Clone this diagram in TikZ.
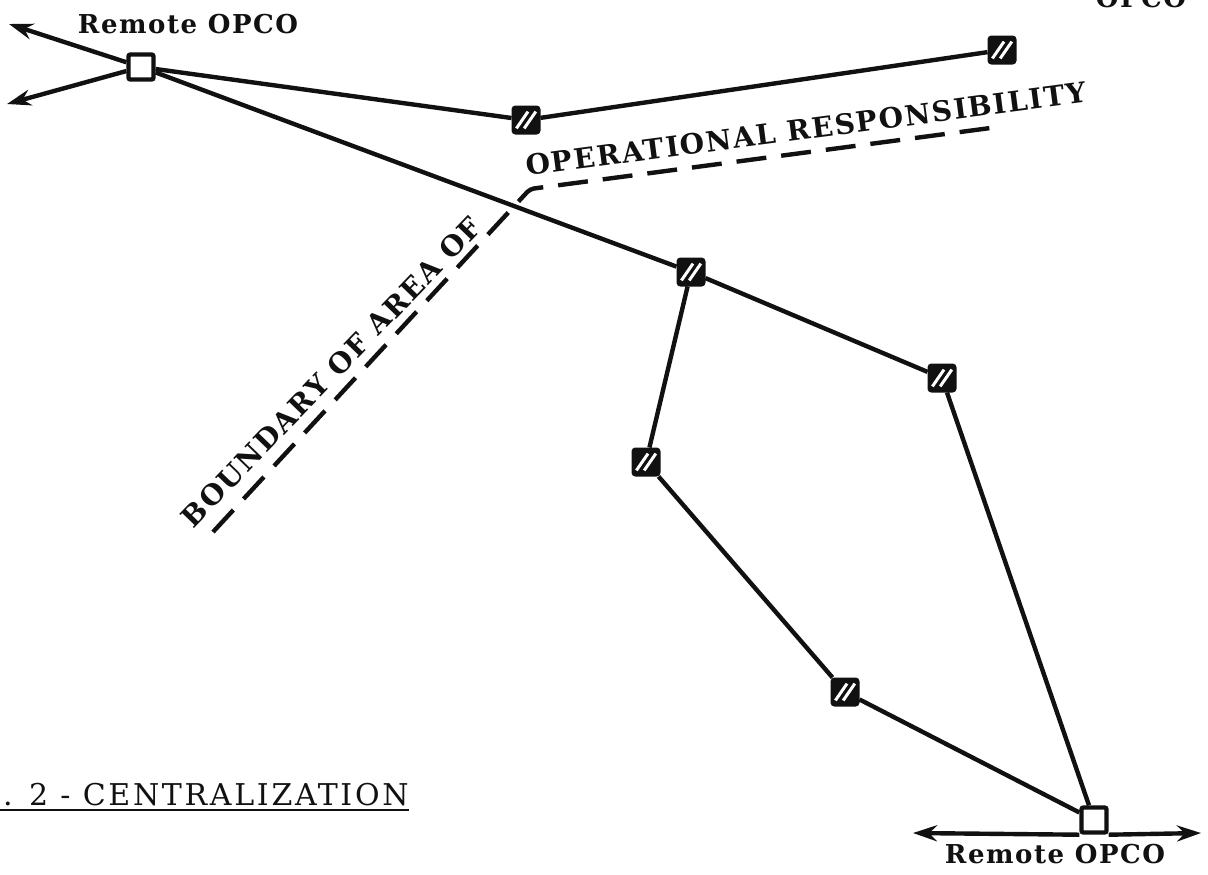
\documentclass[tikz,border=0pt]{standalone}
\usepackage{fontspec}
\setmainfont{DejaVu Serif}
\newfontfamily\slabfont[LetterSpace=6]{DejaVu Serif}
\newfontfamily\capfont[LetterSpace=9]{DejaVu Serif}
\usetikzlibrary{arrows.meta}
\definecolor{Ink}{HTML}{111111}
\definecolor{Paper}{HTML}{FFFFFF}
\tikzset{
  link/.style={draw=Ink,line width=2.2pt},
  bound/.style={draw=Ink,line width=2.2pt,dash pattern=on 15pt off 7.5pt,rounded corners=2pt},
  outarr/.style={draw=Ink,line width=2.2pt,-{Stealth[length=12pt,width=8pt]}},
  rule/.style={draw=Ink,line width=1.4pt},
  opco/.style={rectangle,draw=Ink,fill=Paper,line width=2.2pt,minimum size=12.5pt,inner sep=0pt,rounded corners=1pt},
  hatch/.style={rectangle,draw=Ink,fill=Ink,line width=1pt,minimum size=13.5pt,inner sep=0pt,rounded corners=1.5pt,
    path picture={
      \draw[Paper,line width=1.5pt] ([shift={(-4.8pt,-4.2pt)}]path picture bounding box.center) -- ++(5.8pt,8.4pt);
      \draw[Paper,line width=1.5pt] ([shift={(-0.9pt,-4.2pt)}]path picture bounding box.center) -- ++(5.8pt,8.4pt);}},
  lbl/.style={font=\slabfont\bfseries\fontsize{13}{15}\selectfont,text=Ink,inner sep=0pt},
  bndtext/.style={lbl,font=\slabfont\bfseries\fontsize{14}{16}\selectfont},
  figtext/.style={font=\capfont\fontsize{15}{18}\selectfont,text=Ink,inner sep=0pt},
}

\begin{document}
\begin{tikzpicture}[x=0.5pt,y=-0.5pt]
\path[use as bounding box,fill=Paper] (0,0) rectangle (1208,874);

% stations
\node[opco] (tlopco) at (141,67) {};
\node[hatch] (midtop) at (526,120) {};
\node[hatch] (fartop) at (1002,50) {};
\node[hatch] (hub) at (691,272) {};
\node[hatch] (east) at (942,378) {};
\node[hatch] (west) at (646,462) {};
\node[hatch] (south) at (845,692) {};
\node[opco] (bropco) at (1094,820) {};

\draw[link] (tlopco) -- (midtop) -- (fartop);
\draw[link] (tlopco) -- (hub);
\draw[link] (hub) -- (east) -- (bropco);
\draw[link] (hub) -- (west) -- (south) -- (bropco);

% remote links
\coordinate (tlup) at (9,24);
\coordinate (tllow) at (7,104);
\coordinate (brwest) at (913,833);
\coordinate (breast) at (1201,833);
\draw[outarr] (tlopco) -- (tlup);
\draw[outarr] (tlopco) -- (tllow);
\draw[outarr] (bropco.south west) -- (brwest);
\draw[outarr] (bropco.south east) -- (breast);

% boundary
\coordinate (bndlow) at (213,532);
\coordinate (bndbend) at (530,189);
\coordinate (bndend) at (998,127);
\draw[bound] (bndlow) -- (bndbend) -- (bndend);

\node[lbl] (toplbl) at (188,24) {Remote OPCO};
\node[lbl] (botlbl) at (1055,854) {Remote OPCO};
\node[lbl,anchor=base] (cornlbl) at (1141,7) {OPCO};
\node[bndtext,rotate=7.5] (oprlbl) at (806,129) {OPERATIONAL RESPONSIBILITY};
\node[bndtext,rotate=46] (bndlbl) at (331,372) {BOUNDARY OF AREA OF};

\node[figtext,anchor=base east] (figcap) at (409,805) {Fig. 2 - CENTRALIZATION};
\draw[rule] ([yshift=-2.5pt]figcap.base west) -- ([yshift=-2.5pt]figcap.base east);
\end{tikzpicture}
\end{document}
